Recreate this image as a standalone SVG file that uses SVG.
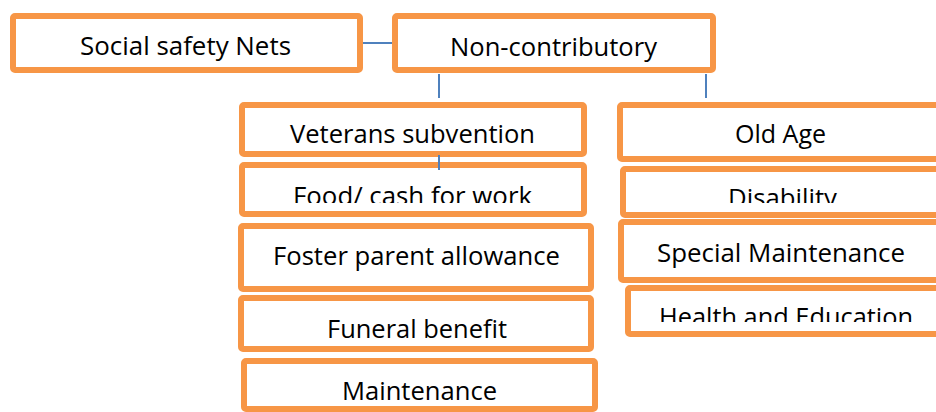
<svg xmlns="http://www.w3.org/2000/svg" width="936" height="412" viewBox="0 0 936 412">
<style>
.box{fill:#fff;stroke:#F79646;stroke-width:6;}
.lbl{font-family:"Open Sans","Liberation Sans",sans-serif;font-size:26px;fill:#000;}
.con{stroke:#4F81BD;stroke-width:2;fill:none;}
</style>
<defs>
<clipPath id="clipFood"><rect x="239" y="165" width="348" height="38"/></clipPath>
<clipPath id="clipDis"><rect x="620" y="169" width="316" height="34"/></clipPath>
<clipPath id="clipHealth"><rect x="625" y="288" width="311" height="34"/></clipPath>
</defs>
<rect width="936" height="412" fill="#fff"/>
<g id="social-safety-nets">
<rect class="box" x="13" y="16" width="347" height="54" rx="2"/>
<text class="lbl" x="80" y="55" textLength="211" lengthAdjust="spacingAndGlyphs">Social safety Nets</text>
</g>
<g id="non-contributory">
<rect class="box" x="395" y="16" width="318" height="54" rx="2"/>
<text class="lbl" x="450" y="56" textLength="207" lengthAdjust="spacingAndGlyphs">Non-contributory</text>
</g>
<g id="veterans-subvention">
<rect class="box" x="242" y="105" width="342" height="49" rx="2"/>
<text class="lbl" x="290" y="143" textLength="245" lengthAdjust="spacingAndGlyphs">Veterans subvention</text>
</g>
<g id="food-cash-for-work">
<rect class="box" x="242" y="165" width="342" height="49" rx="2"/>
<text class="lbl" x="293" y="205" textLength="239" lengthAdjust="spacingAndGlyphs" clip-path="url(#clipFood)">Food/ cash for work</text>
</g>
<g id="foster-parent-allowance">
<rect class="box" x="241" y="226" width="350" height="63" rx="2"/>
<text class="lbl" x="273" y="265" textLength="287" lengthAdjust="spacingAndGlyphs">Foster parent allowance</text>
</g>
<g id="funeral-benefit">
<rect class="box" x="241" y="298" width="350" height="51" rx="2"/>
<text class="lbl" x="327" y="338" textLength="180" lengthAdjust="spacingAndGlyphs">Funeral benefit</text>
</g>
<g id="maintenance">
<rect class="box" x="244" y="361" width="351" height="48" rx="2"/>
<text class="lbl" x="342" y="400" textLength="155" lengthAdjust="spacingAndGlyphs">Maintenance</text>
</g>
<g id="old-age">
<rect class="box" x="620" y="105" width="330" height="54" rx="2"/>
<text class="lbl" x="735" y="143" textLength="91" lengthAdjust="spacingAndGlyphs">Old Age</text>
</g>
<g id="disability">
<rect class="box" x="623" y="169" width="330" height="46" rx="2"/>
<text class="lbl" x="728" y="207" textLength="109" lengthAdjust="spacingAndGlyphs" clip-path="url(#clipDis)">Disability</text>
</g>
<g id="special-maintenance">
<rect class="box" x="621" y="222" width="330" height="58" rx="2"/>
<text class="lbl" x="657" y="262" textLength="248" lengthAdjust="spacingAndGlyphs">Special Maintenance</text>
</g>
<g id="health-and-education">
<rect class="box" x="628" y="288" width="330" height="46" rx="2"/>
<text class="lbl" x="659" y="326" textLength="254" lengthAdjust="spacingAndGlyphs" clip-path="url(#clipHealth)">Health and Education</text>
</g>
<g id="connectors">
<line class="con" x1="363" y1="43" x2="392" y2="43"/>
<line class="con" x1="439" y1="74" x2="439" y2="98"/>
<line class="con" x1="706" y1="74" x2="706" y2="98"/>
<line class="con" x1="439" y1="155" x2="439" y2="170"/>
</g>
</svg>
